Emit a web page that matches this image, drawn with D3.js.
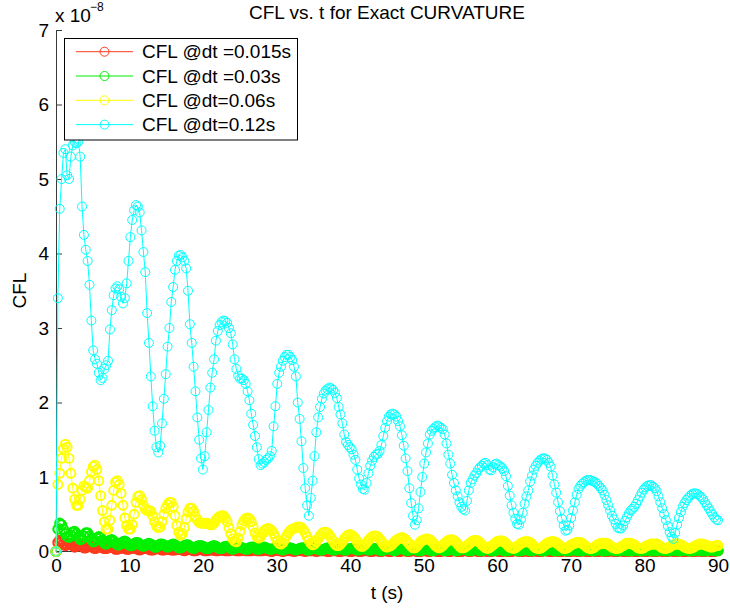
<!DOCTYPE html>
<html>
<head>
<meta charset="utf-8">
<script src="https://cdn.jsdelivr.net/npm/d3@7"></script>
<style>
  html, body { margin: 0; padding: 0; background: #fff; }
  svg { display: block; font-family: "Liberation Sans", Arial, Helvetica, sans-serif; }
</style>
</head>
<body>
<svg id="chart" width="730" height="609"></svg>
<script>
// CFL number (units of 1e-8) against time, sampled on a uniform grid from 0 to 90 s.
const tEnd = 90;
const xTickValues = [0, 10, 20, 30, 40, 50, 60, 70, 80, 90];
const yTickValues = [0, 1, 2, 3, 4, 5, 6, 7];
const titleText = "CFL vs. t for Exact CURVATURE";
const xLabelText = "t (s)";
const yLabelText = "CFL";
const legendLabels = ["CFL @dt =0.015s", "CFL @dt =0.03s", "CFL @dt=0.06s", "CFL @dt=0.12s"];
const seriesColors = ["#ff3a1c", "#00f000", "#ffff00", "#00ffff"];
// The finer time steps give much denser marker trails, drawn with heavier rings.
const markerStroke = [2.2, 2.2, 1.9, 1];

// dt = 0.015 s
const cflDt015 = [
  0, 0.12, 0.15, 0.13, 0.10, 0.08, 0.09, 0.11, 0.10, 0.08, 0.06, 0.07, 0.09, 0.09, 0.07, 0.05, 0.05, 0.07, 0.08, 0.07,
  0.05, 0.04, 0.05, 0.07, 0.07, 0.05, 0.04, 0.04, 0.05, 0.06, 0.06, 0.05, 0.03, 0.03, 0.04, 0.05, 0.05, 0.04, 0.03, 0.03,
  0.04, 0.05, 0.05, 0.04, 0.03, 0.02, 0.03, 0.04, 0.04, 0.04, 0.03, 0.02, 0.02, 0.03, 0.04, 0.04, 0.03, 0.02, 0.02, 0.03,
  0.03, 0.03, 0.02, 0.02, 0.02, 0.03, 0.03, 0.03, 0.02, 0.01, 0.02, 0.03, 0.03, 0.02, 0.01, 0.01, 0.02, 0.03, 0.03, 0.02,
  0.01, 0.01, 0.02, 0.02, 0.02, 0.02, 0.01, 0.01, 0.02, 0.02, 0.02, 0.01, 0.01, 0.01, 0.02, 0.02, 0.02, 0.01, 0.01, 0.01,
  0.02, 0.02, 0.01, 0.01, 0.01, 0.01, 0.02, 0.02, 0.01, 0.01, 0.01, 0.01, 0.02, 0.02, 0.01, 0.01, 0.00, 0.01, 0.02, 0.02,
  0.01, 0.01, 0.00, 0.01, 0.01, 0.02, 0.01, 0.01, 0.00, 0.01, 0.01, 0.02, 0.01, 0.01, 0.00, 0.01, 0.01, 0.01, 0.01, 0.01,
  0.00, 0.01, 0.01, 0.01, 0.01, 0.01, 0.00, 0.00, 0.01, 0.01, 0.01, 0.01, 0.00, 0.00, 0.01, 0.01, 0.01, 0.01, 0.00, 0.00,
  0.01, 0.01, 0.01, 0.00, 0.00, 0.01, 0.01, 0.01, 0.01, 0.00, 0.00, 0.01, 0.01, 0.01, 0.00, 0.00, 0.01, 0.01, 0.01, 0.00,
  0.00, 0.01, 0.01, 0.01, 0.00, 0.00, 0.01, 0.01, 0.01, 0.00, 0.00, 0.01, 0.01, 0.01, 0.00, 0.00, 0.00, 0.01, 0.01, 0.01,
  0.00, 0.00, 0.01, 0.01, 0.01, 0.00, 0.00, 0.00, 0.01, 0.01, 0.01, 0.00, 0.00, 0.01, 0.01, 0.01, 0.00, 0.00, 0.00, 0.01,
  0.01, 0.01, 0.00, 0.00, 0.01, 0.01, 0.01, 0.00, 0.00, 0.00, 0.01, 0.01, 0.00, 0.00, 0.00, 0.01, 0.01, 0.01, 0.00, 0.00,
  0.00, 0.01, 0.01, 0.00, 0.00, 0.00, 0.01, 0.01, 0.01, 0.00, 0.00, 0.00, 0.01, 0.01, 0.00, 0.00, 0.00, 0.01, 0.01, 0.00,
  0.00, 0.00, 0.01, 0.01, 0.01, 0.00, 0.00, 0.00, 0.01, 0.01, 0.00, 0.00, 0.00, 0.01, 0.01, 0.00, 0.00, 0.00, 0.01, 0.01,
  0.00, 0.00, 0.00, 0.01, 0.01, 0.00, 0.00, 0.00, 0.01, 0.01, 0.00, 0.00, 0.00, 0.01, 0.01, 0.00, 0.00, 0.00, 0.01, 0.01,
  0.00, 0.00, 0.00, 0.01, 0.01, 0.00, 0.00, 0.00, 0.00, 0.01, 0.01, 0.00, 0.00, 0.00, 0.01, 0.01, 0.00, 0.00, 0.00, 0.01,
  0.01, 0.00, 0.00, 0.00, 0.01, 0.01, 0.00, 0.00, 0.00, 0.00, 0.01, 0.01, 0.00, 0.00, 0.00, 0.01, 0.01, 0.00, 0.00, 0.00,
  0.01, 0.01, 0.00, 0.00, 0.00, 0.01, 0.01, 0.00, 0.00, 0.00, 0.01, 0.01, 0.00, 0.00, 0.00, 0.01, 0.01
];

// dt = 0.03 s
const cflDt03 = [
  0, 0.30, 0.38, 0.36, 0.30, 0.24, 0.20, 0.19, 0.22, 0.26, 0.27, 0.24, 0.19, 0.16, 0.17, 0.21, 0.25, 0.25, 0.21, 0.16,
  0.13, 0.14, 0.18, 0.20, 0.19, 0.15, 0.11, 0.10, 0.12, 0.15, 0.16, 0.14, 0.11, 0.09, 0.09, 0.11, 0.13, 0.14, 0.12, 0.09,
  0.08, 0.08, 0.10, 0.12, 0.12, 0.10, 0.08, 0.07, 0.08, 0.10, 0.11, 0.10, 0.08, 0.06, 0.06, 0.08, 0.10, 0.10, 0.09, 0.07,
  0.06, 0.07, 0.09, 0.10, 0.09, 0.07, 0.05, 0.05, 0.06, 0.08, 0.09, 0.09, 0.07, 0.05, 0.04, 0.05, 0.07, 0.08, 0.08, 0.07,
  0.05, 0.04, 0.04, 0.06, 0.07, 0.08, 0.07, 0.05, 0.04, 0.04, 0.05, 0.07, 0.07, 0.06, 0.04, 0.03, 0.04, 0.05, 0.06, 0.06,
  0.05, 0.04, 0.03, 0.03, 0.05, 0.06, 0.06, 0.05, 0.03, 0.03, 0.04, 0.05, 0.06, 0.05, 0.04, 0.03, 0.03, 0.04, 0.05, 0.05,
  0.04, 0.03, 0.02, 0.03, 0.04, 0.05, 0.05, 0.04, 0.03, 0.02, 0.03, 0.04, 0.05, 0.05, 0.04, 0.02, 0.02, 0.03, 0.04, 0.05,
  0.04, 0.03, 0.02, 0.02, 0.03, 0.04, 0.05, 0.04, 0.03, 0.02, 0.02, 0.03, 0.04, 0.04, 0.03, 0.02, 0.02, 0.03, 0.04, 0.04,
  0.04, 0.03, 0.02, 0.02, 0.03, 0.04, 0.04, 0.03, 0.02, 0.02, 0.03, 0.04, 0.04, 0.03, 0.02, 0.01, 0.02, 0.03, 0.04, 0.04,
  0.03, 0.02, 0.01, 0.02, 0.03, 0.04, 0.04, 0.03, 0.02, 0.01, 0.02, 0.03, 0.04, 0.03, 0.02, 0.01, 0.01, 0.02, 0.03, 0.04,
  0.03, 0.02, 0.01, 0.01, 0.02, 0.03, 0.04, 0.03, 0.02, 0.01, 0.01, 0.02, 0.03, 0.03, 0.02, 0.01, 0.01, 0.02, 0.03, 0.03,
  0.03, 0.02, 0.01, 0.01, 0.02, 0.03, 0.03, 0.02, 0.01, 0.01, 0.02, 0.03, 0.03, 0.02, 0.01, 0.01, 0.01, 0.02, 0.03, 0.03,
  0.02, 0.01, 0.01, 0.01, 0.02, 0.03, 0.03, 0.02, 0.01, 0.01, 0.01, 0.02, 0.03, 0.03, 0.02, 0.01, 0.01, 0.02, 0.03, 0.03,
  0.02, 0.01, 0.01, 0.01, 0.02, 0.03, 0.03, 0.02, 0.01, 0.01, 0.01, 0.02, 0.03, 0.02, 0.01, 0.01, 0.01, 0.02, 0.03, 0.02,
  0.02, 0.01, 0.01, 0.01, 0.02, 0.03, 0.02, 0.02, 0.01, 0.01, 0.01, 0.02, 0.03, 0.02, 0.01, 0.01, 0.01, 0.02, 0.02, 0.02,
  0.02, 0.01, 0.01, 0.01, 0.02, 0.02, 0.02, 0.01, 0.01, 0.01, 0.01, 0.02, 0.02, 0.02, 0.01, 0.01, 0.01, 0.02, 0.02, 0.02,
  0.01, 0.01, 0.01, 0.01, 0.02, 0.02, 0.02, 0.01, 0.01, 0.01, 0.01, 0.02, 0.02, 0.02, 0.01, 0.01, 0.01, 0.02, 0.02, 0.02,
  0.01, 0.01, 0.01, 0.01, 0.02, 0.02, 0.02, 0.01, 0.01, 0.01, 0.01, 0.02, 0.02, 0.02, 0.01, 0.01, 0.01
];

// dt = 0.06 s
const cflDt06 = [
  0, 0.90, 1.05, 1.25, 1.38, 1.44, 1.40, 1.25, 1.05, 0.85, 0.70, 0.62, 0.62, 0.70, 0.82, 0.88, 0.86, 0.85, 0.95, 1.07,
  1.14, 1.16, 1.10, 0.95, 0.75, 0.55, 0.40, 0.30, 0.30, 0.42, 0.62, 0.82, 0.93, 0.95, 0.90, 0.78, 0.62, 0.45, 0.35, 0.30,
  0.30, 0.36, 0.50, 0.66, 0.74, 0.75, 0.70, 0.62, 0.57, 0.55, 0.55, 0.54, 0.48, 0.40, 0.34, 0.32, 0.33, 0.40, 0.50, 0.58,
  0.63, 0.66, 0.66, 0.60, 0.48, 0.35, 0.26, 0.22, 0.24, 0.32, 0.44, 0.53, 0.58, 0.58, 0.54, 0.47, 0.42, 0.39, 0.38, 0.38,
  0.38, 0.38, 0.37, 0.36, 0.36, 0.38, 0.42, 0.45, 0.47, 0.48, 0.48, 0.45, 0.40, 0.32, 0.24, 0.17, 0.14, 0.13, 0.18, 0.27,
  0.36, 0.41, 0.44, 0.45, 0.44, 0.40, 0.33, 0.25, 0.20, 0.18, 0.20, 0.24, 0.28, 0.30, 0.31, 0.30, 0.28, 0.24, 0.19, 0.14,
  0.11, 0.10, 0.12, 0.16, 0.21, 0.25, 0.28, 0.30, 0.31, 0.32, 0.33, 0.33, 0.32, 0.29, 0.25, 0.20, 0.15, 0.11, 0.09, 0.10,
  0.13, 0.17, 0.21, 0.24, 0.26, 0.26, 0.25, 0.22, 0.18, 0.14, 0.10, 0.08, 0.08, 0.10, 0.13, 0.17, 0.20, 0.22, 0.23, 0.22,
  0.20, 0.17, 0.13, 0.09, 0.07, 0.07, 0.09, 0.12, 0.15, 0.18, 0.20, 0.21, 0.21, 0.20, 0.17, 0.14, 0.10, 0.07, 0.06, 0.07,
  0.08, 0.10, 0.13, 0.15, 0.17, 0.18, 0.19, 0.18, 0.16, 0.13, 0.10, 0.07, 0.05, 0.05, 0.07, 0.10, 0.13, 0.15, 0.16, 0.17,
  0.17, 0.16, 0.14, 0.11, 0.08, 0.06, 0.05, 0.06, 0.08, 0.11, 0.13, 0.15, 0.16, 0.16, 0.15, 0.13, 0.10, 0.07, 0.05, 0.05,
  0.06, 0.08, 0.10, 0.12, 0.14, 0.15, 0.15, 0.14, 0.12, 0.09, 0.07, 0.05, 0.04, 0.05, 0.07, 0.09, 0.11, 0.13, 0.14, 0.14,
  0.14, 0.13, 0.11, 0.08, 0.06, 0.05, 0.04, 0.05, 0.07, 0.09, 0.11, 0.12, 0.13, 0.13, 0.13, 0.12, 0.10, 0.07, 0.05, 0.04,
  0.04, 0.05, 0.07, 0.09, 0.11, 0.12, 0.13, 0.13, 0.13, 0.12, 0.10, 0.08, 0.06, 0.04, 0.04, 0.05, 0.07, 0.09, 0.10, 0.11,
  0.12, 0.12, 0.12, 0.11, 0.09, 0.07, 0.05, 0.04, 0.04, 0.05, 0.07, 0.09, 0.10, 0.11, 0.11, 0.11, 0.11, 0.10, 0.08, 0.06,
  0.05, 0.04, 0.04, 0.05, 0.07, 0.08, 0.10, 0.11, 0.11, 0.11, 0.10, 0.09, 0.07, 0.05, 0.04, 0.04, 0.05, 0.07, 0.08, 0.09,
  0.10, 0.10, 0.10, 0.10, 0.09, 0.07, 0.05, 0.04, 0.04, 0.05, 0.06, 0.08, 0.09, 0.10, 0.10, 0.10, 0.09, 0.08, 0.06, 0.05,
  0.04, 0.04, 0.05, 0.06, 0.08, 0.09, 0.10, 0.10, 0.10, 0.09, 0.08, 0.07, 0.06, 0.06, 0.07, 0.08, 0.08
];

// dt = 0.12 s
const cflDt12 = [
  0, 3.40, 4.60, 5.00, 5.35, 5.40, 5.05, 5.00, 5.30, 5.45, 5.50, 5.48, 5.50, 5.30, 4.63, 4.25, 4.05, 3.90, 3.58, 3.10,
  2.70, 2.58, 2.52, 2.40, 2.30, 2.33, 2.45, 2.50, 2.56, 2.98, 3.24, 3.44, 3.53, 3.56, 3.52, 3.42, 3.33, 3.40, 3.60, 3.90,
  4.22, 4.45, 4.58, 4.65, 4.63, 4.55, 4.31, 4.02, 3.75, 3.20, 2.80, 2.35, 1.95, 1.62, 1.40, 1.33, 1.42, 1.72, 2.05, 2.38,
  2.75, 3.00, 3.35, 3.55, 3.78, 3.90, 3.97, 3.98, 3.95, 3.90, 3.80, 3.50, 3.05, 2.80, 2.48, 2.15, 1.80, 1.50, 1.25, 1.10,
  1.28, 1.60, 1.90, 2.20, 2.40, 2.58, 2.83, 2.96, 3.04, 3.08, 3.10, 3.09, 3.07, 3.00, 2.93, 2.78, 2.58, 2.45, 2.36, 2.32,
  2.32, 2.30, 2.25, 2.15, 2.03, 1.85, 1.70, 1.55, 1.40, 1.24, 1.16, 1.18, 1.20, 1.23, 1.25, 1.28, 1.35, 1.68, 1.95, 2.25,
  2.40, 2.48, 2.56, 2.61, 2.64, 2.64, 2.61, 2.57, 2.48, 2.35, 2.00, 1.78, 1.48, 1.12, 0.85, 0.62, 0.48, 0.72, 0.95, 1.28,
  1.60, 1.80, 1.94, 2.05, 2.12, 2.16, 2.18, 2.20, 2.19, 2.17, 2.13, 2.06, 1.94, 1.84, 1.72, 1.57, 1.47, 1.43, 1.40, 1.37,
  1.30, 1.23, 1.10, 0.98, 0.90, 0.84, 0.83, 0.92, 1.05, 1.15, 1.22, 1.27, 1.30, 1.31, 1.35, 1.43, 1.55, 1.66, 1.75, 1.81,
  1.84, 1.85, 1.84, 1.81, 1.75, 1.68, 1.56, 1.42, 1.25, 1.08, 0.85, 0.65, 0.48, 0.36, 0.42, 0.58, 0.80, 1.00, 1.18, 1.33,
  1.45, 1.57, 1.62, 1.65, 1.67, 1.69, 1.68, 1.66, 1.64, 1.57, 1.45, 1.30, 1.18, 1.03, 0.92, 0.82, 0.74, 0.66, 0.60, 0.57,
  0.55, 0.68, 0.82, 0.92, 0.97, 1.02, 1.05, 1.10, 1.13, 1.15, 1.18, 1.19, 1.16, 1.10, 1.09, 1.13, 1.17, 1.18, 1.16, 1.14,
  1.12, 1.08, 1.01, 0.88, 0.75, 0.62, 0.52, 0.44, 0.37, 0.36, 0.43, 0.52, 0.64, 0.74, 0.82, 0.94, 1.02, 1.10, 1.15, 1.19,
  1.22, 1.24, 1.25, 1.25, 1.23, 1.19, 1.14, 1.02, 0.90, 0.79, 0.66, 0.54, 0.44, 0.35, 0.28, 0.29, 0.35, 0.45, 0.55, 0.66,
  0.76, 0.84, 0.88, 0.91, 0.93, 0.95, 0.96, 0.96, 0.95, 0.94, 0.93, 0.91, 0.88, 0.85, 0.82, 0.76, 0.69, 0.62, 0.55, 0.48,
  0.43, 0.37, 0.32, 0.31, 0.31, 0.35, 0.41, 0.46, 0.51, 0.55, 0.57, 0.60, 0.64, 0.69, 0.74, 0.79, 0.83, 0.86, 0.88, 0.89,
  0.89, 0.87, 0.85, 0.81, 0.74, 0.66, 0.58, 0.50, 0.42, 0.34, 0.26, 0.20, 0.17, 0.25, 0.36, 0.45, 0.53, 0.60, 0.65, 0.69,
  0.72, 0.75, 0.77, 0.78, 0.78, 0.77, 0.75, 0.73, 0.70, 0.66, 0.62, 0.58, 0.54, 0.50, 0.46, 0.43, 0.42
];

const seriesValues = [cflDt015, cflDt03, cflDt06, cflDt12];

const svg = d3.select("#chart");
const fontSize = 19;

const x = d3.scaleLinear().domain([0, tEnd]).range([56, 718]);
const y = d3.scaleLinear().domain([0, 7]).range([551.5, 30]);

// Axes: left and bottom only, ticks pointing into the plot.
const axisColor = "#3a3a3a";
const gx = svg.append("g")
  .attr("transform", "translate(0,551)")
  .call(d3.axisBottom(x).tickValues(xTickValues).tickFormat(d3.format("d"))
    .tickSizeInner(-6).tickSizeOuter(0).tickPadding(8));
const gy = svg.append("g")
  .attr("transform", "translate(56,0)")
  .call(d3.axisLeft(y).tickValues(yTickValues).tickFormat(d3.format("d"))
    .tickSizeInner(-6).tickSizeOuter(0).tickPadding(7));
[gx, gy].forEach(g => {
  g.attr("font-family", null).attr("font-size", null);
  g.select(".domain").attr("stroke", axisColor);
  g.selectAll(".tick line").attr("stroke", axisColor);
  g.selectAll(".tick text").attr("fill", "#000").style("font-size", fontSize + "px");
});

// Scale factor above the y axis
svg.append("text").attr("x", 55).attr("y", 21.5)
  .style("font-size", fontSize + "px").text("x 10");
svg.append("text").attr("x", 90).attr("y", 10.5)
  .style("font-size", "12px").text("\u22128");

// Series: thin connecting line plus open circle markers
const line = d3.line().x(d => x(d.t)).y(d => y(d.v));
seriesValues.forEach((vals, k) => {
  const n = vals.length;
  const pts = vals.map((v, i) => ({ t: i * tEnd / (n - 1), v }));
  const g = svg.append("g");
  g.append("path").datum(pts)
    .attr("d", line)
    .attr("fill", "none")
    .attr("stroke", seriesColors[k])
    .attr("stroke-width", 1);
  g.selectAll("circle").data(pts).join("circle")
    .attr("cx", d => x(d.t))
    .attr("cy", d => y(d.v))
    .attr("r", 4.5)
    .attr("fill", "none")
    .attr("stroke", seriesColors[k])
    .attr("stroke-width", markerStroke[k]);
});

// Title and axis labels
svg.append("text").attr("x", 387).attr("y", 18.5).attr("text-anchor", "middle")
  .style("font-size", fontSize + "px").text(titleText);
svg.append("text").attr("x", 387).attr("y", 599).attr("text-anchor", "middle")
  .style("font-size", fontSize + "px").text(xLabelText);
svg.append("text").attr("transform", "translate(26,290.5) rotate(-90)").attr("text-anchor", "middle")
  .style("font-size", fontSize + "px").text(yLabelText);

// Legend
const legend = svg.append("g");
legend.append("rect")
  .attr("x", 64.5).attr("y", 38.5).attr("width", 233).attr("height", 101.5)
  .attr("fill", "#fff").attr("stroke", "#000").attr("stroke-width", 1);
legendLabels.forEach((label, k) => {
  const ly = 51.7 + k * 24.3;
  legend.append("line").attr("x1", 76).attr("x2", 133).attr("y1", ly).attr("y2", ly)
    .attr("stroke", seriesColors[k]).attr("stroke-width", 1);
  legend.append("circle").attr("cx", 104.5).attr("cy", ly).attr("r", 4.5)
    .attr("fill", "none").attr("stroke", seriesColors[k]).attr("stroke-width", 1);
  legend.append("text").attr("x", 142).attr("y", ly).attr("dy", "0.35em")
    .style("font-size", fontSize + "px").text(label);
});
</script>
</body>
</html>
